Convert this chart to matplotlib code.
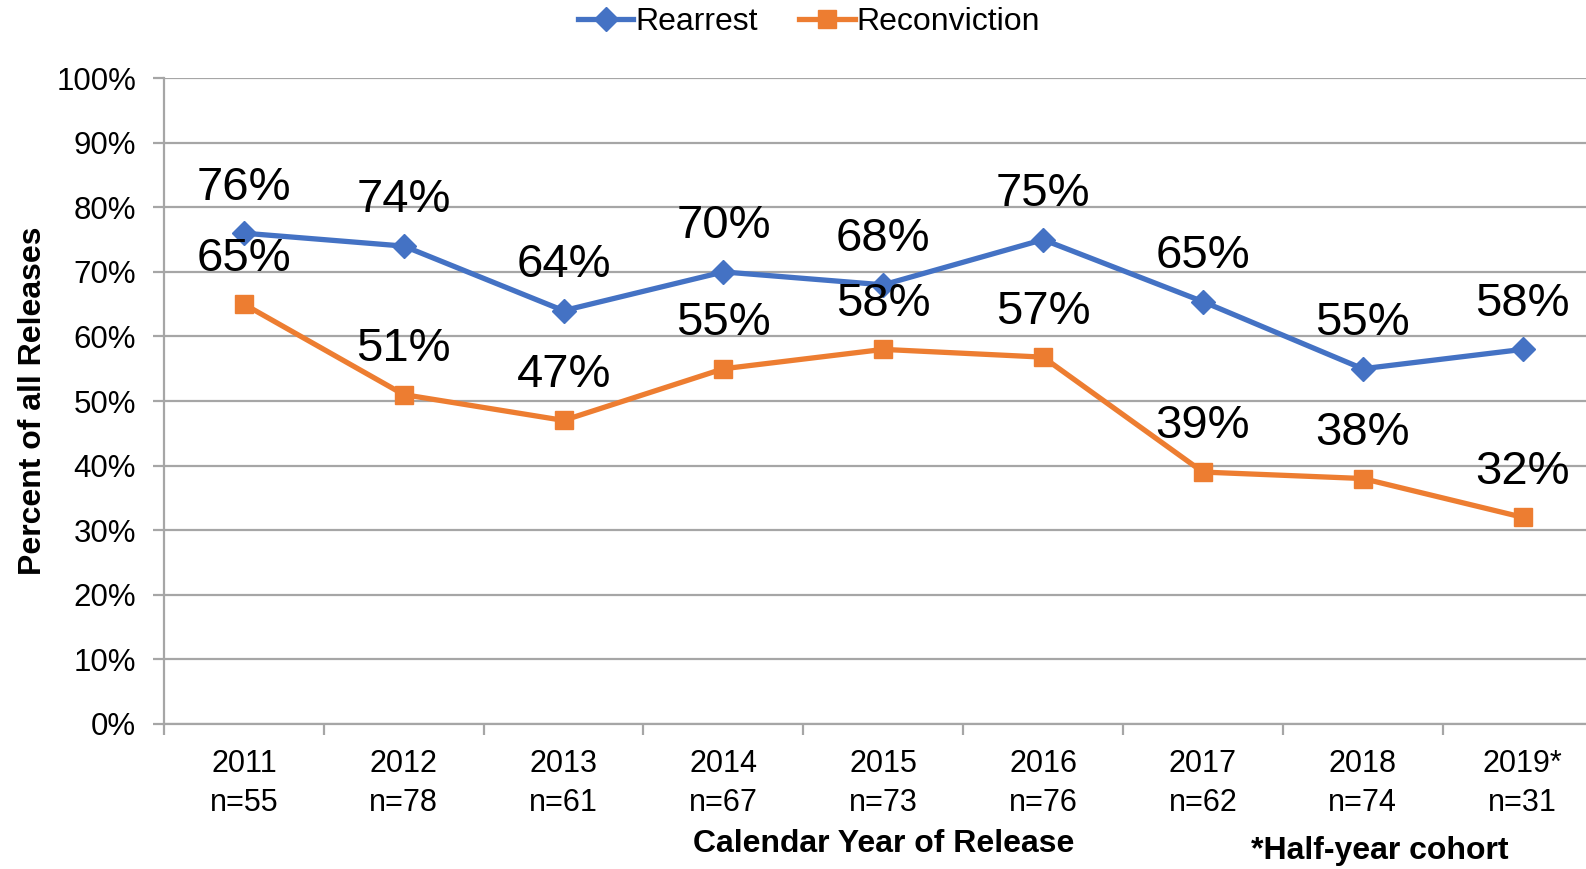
import matplotlib.pyplot as plt
import numpy as np

plt.rcParams['font.family'] = ['Liberation Sans', 'DejaVu Sans']

# Data
years = ['2011', '2012', '2013', '2014', '2015', '2016', '2017', '2018', '2019*']
counts = [55, 78, 61, 67, 73, 76, 62, 74, 31]
rearrest = [76, 74, 64, 70, 68, 75, 65.4, 55, 58]
reconviction = [65, 51, 47, 55, 58, 56.8, 39, 38, 32]
rearrest_labels = ['76%', '74%', '64%', '70%', '68%', '75%', '65%', '55%', '58%']
reconviction_labels = ['65%', '51%', '47%', '55%', '58%', '57%', '39%', '38%', '32%']

blue = '#4472C4'
orange = '#ED7D31'
grid_gray = '#A6A6A6'

fig = plt.figure(figsize=(15.86, 8.69), dpi=100)
# the plot area runs a little past the right edge, as in the original
ax = fig.add_axes([0.1034, 0.167, 0.907, 0.743])

x = np.arange(len(years))
ax.plot(x, rearrest, color=blue, lw=3.8, marker='D', ms=12, label='Rearrest', zorder=3)
ax.plot(x, reconviction, color=orange, lw=3.8, marker='s', ms=13, label='Reconviction', zorder=3)

for xi, v, t in zip(x, rearrest, rearrest_labels):
    ax.annotate(t, (xi, v), xytext=(0, 17), textcoords='offset points',
                ha='center', va='bottom', fontsize=34)
for xi, v, t in zip(x, reconviction, reconviction_labels):
    ax.annotate(t, (xi, v), xytext=(0, 17), textcoords='offset points',
                ha='center', va='bottom', fontsize=34)

ax.set_xlim(-0.5, len(years) - 0.5)
ax.set_ylim(0, 100)
ax.set_yticks(np.arange(0, 101, 10))
ax.set_yticklabels([f'{v}%' for v in range(0, 101, 10)], fontsize=22.5)
ax.yaxis.grid(True, color=grid_gray, lw=1.6)
ax.set_axisbelow(True)

ax.set_xticks(x)
ax.set_xticklabels([f'{y}\nn={n}' for y, n in zip(years, counts)], fontsize=22,
                   linespacing=1.4)
ax.set_xticks(np.arange(-0.5, len(years)), minor=True)
ax.tick_params(axis='x', which='major', length=0, pad=18)
ax.tick_params(axis='x', which='minor', length=8, color=grid_gray, width=1.6)
ax.tick_params(axis='y', length=8, color=grid_gray, width=1.6, pad=12)

for s in ['top', 'right']:
    ax.spines[s].set_visible(False)
for s in ['left', 'bottom']:
    ax.spines[s].set_color(grid_gray)
    ax.spines[s].set_linewidth(1.6)

ax.set_ylabel('Percent of all Releases', fontsize=23, fontweight='bold', labelpad=6)
ax.set_xlabel('Calendar Year of Release', fontsize=23, fontweight='bold', labelpad=8)
fig.text(0.870, 0.021, '*Half-year cohort', fontsize=23, fontweight='bold',
         ha='center', va='center')

fig.legend(loc='upper center', bbox_to_anchor=(0.51, 1.025), ncol=2, frameon=False,
           fontsize=23, handlelength=1.75, handletextpad=0.05, columnspacing=1.3)

fig.savefig('out.png', dpi=100)
